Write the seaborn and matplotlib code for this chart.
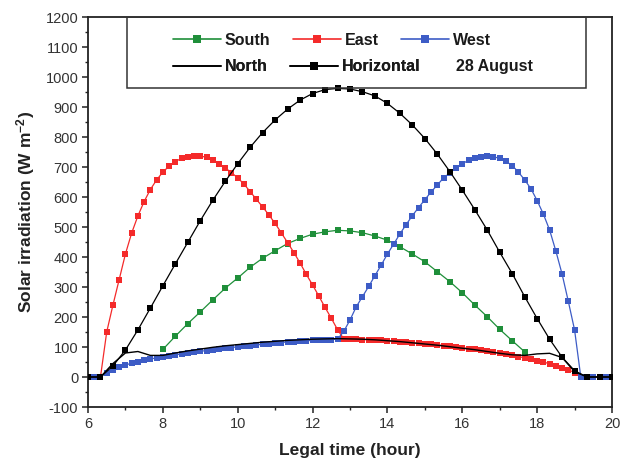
import numpy as np
import pandas as pd
import matplotlib
matplotlib.use("Agg")
import matplotlib.pyplot as plt
import seaborn as sns
from matplotlib.lines import Line2D
from matplotlib.patches import Rectangle
from matplotlib.ticker import MultipleLocator

# ---------------- data ----------------
# 10-minute sampling grid for East / West, 20-minute grid for others
hours_10min = 6 + np.arange(85) / 6.0
hours_20min = 6 + np.arange(43) / 3.0
hours_south = hours_20min[6:36]

east = [0, 0, 0, 150, 240, 325, 410, 480, 537, 585,
        625, 657, 683, 703, 718, 729, 735, 738, 737, 732,
        723, 711, 697, 681, 664, 643, 618, 592, 567, 540,
        512, 480, 448, 415, 380, 342, 307, 270, 232, 196,
        158, 127, 127, 126, 125, 124, 123, 122, 121, 119,
        118, 116, 114, 112, 111, 109, 107, 105, 103, 101,
        98, 95, 92, 89, 86, 83, 80, 76, 72, 68,
        64, 60, 55, 50, 44, 38, 31, 24, 15, 0,
        0, 0, 0, 0, 0]

west = [0, 0, 0, 14, 25, 33, 40, 46, 51, 56,
        60, 64, 68, 71, 74, 77, 80, 83, 86, 88,
        91, 93, 96, 98, 101, 103, 105, 107, 109, 111,
        113, 115, 117, 118, 120, 121, 122, 123, 124, 125,
        126, 152, 190, 234, 268, 302, 338, 373, 410, 443,
        477, 508, 538, 565, 591, 617, 640, 664, 680, 697,
        711, 722, 730, 735, 737, 734, 729, 719, 705, 683,
        657, 628, 588, 543, 490, 420, 343, 252, 157, 0,
        0, 0, 0, 0, 0]

horizontal = [0, 0, 37, 90, 157, 230, 304, 377, 449, 521,
              589, 652, 711, 766, 815, 857, 893, 923, 945, 958,
              962, 960, 951, 937, 912, 879, 840, 795, 743, 685,
              623, 558, 490, 416, 345, 268, 195, 126, 66, 21,
              0, 0, 0]

north = [0, 0, 45, 80, 85, 72, 72, 80, 87, 93,
         99, 104, 108, 112, 116, 119, 122, 124, 126, 127,
         128, 127, 126, 124, 121, 118, 114, 110, 106, 101,
         96, 91, 85, 79, 74, 72, 77, 79, 65, 18,
         0, 0, 0]

south = [92, 136, 178, 217, 257, 296, 330, 366, 396, 421,
         445, 462, 476, 484, 489, 487, 481, 470, 456, 434,
         410, 384, 351, 318, 281, 240, 201, 159, 121, 84]

x_ticks = [6, 8, 10, 12, 14, 16, 18, 20]
y_ticks = list(range(-100, 1201, 100))

# ---------------- style ----------------
sns.set_theme(style="ticks")
plt.rcParams["font.family"] = ["Liberation Sans", "DejaVu Sans"]
plt.rcParams["mathtext.fontset"] = "custom"
plt.rcParams["mathtext.bf"] = "Liberation Sans:bold"
plt.rcParams["mathtext.rm"] = "Liberation Sans"
plt.rcParams["axes.unicode_minus"] = False

c_south = "#1f8f3a"
c_east = "#f42a2a"
c_west = "#3d5cc6"
c_black = "#000000"

fig = plt.figure(figsize=(6.21, 4.66), dpi=100)
ax = fig.add_axes([0.1417, 0.1266, 0.8438, 0.8369])

common = dict(ax=ax, marker="s", markeredgewidth=0, legend=False)
sns.lineplot(x=hours_south, y=south, color=c_south, linewidth=0.9,
             markersize=4.4, zorder=3, **common)
sns.lineplot(x=hours_10min, y=east, color=c_east, linewidth=0.9,
             markersize=4.9, zorder=4, **common)
sns.lineplot(x=hours_10min, y=west, color=c_west, linewidth=0.9,
             markersize=4.9, zorder=5, **common)
sns.lineplot(x=hours_20min, y=north, color=c_black, linewidth=1.0,
             ax=ax, legend=False, zorder=6)
sns.lineplot(x=hours_20min, y=horizontal, color=c_black, linewidth=0.9,
             markersize=4.5, zorder=7, **common)

ax.set_xlim(6, 20)
ax.set_ylim(-100, 1200)
ax.set_xticks(x_ticks)
ax.set_yticks(y_ticks)
ax.xaxis.set_minor_locator(MultipleLocator(1))
ax.yaxis.set_minor_locator(MultipleLocator(50))
ax.tick_params(axis="both", which="major", direction="out", length=4.5,
               width=1.1, labelsize=10.5, labelcolor="#333333", color="#222222",
               pad=2.5)
ax.tick_params(axis="both", which="minor", direction="out", length=2.5,
               width=1.0, color="#222222")
ax.tick_params(top=False, right=False, which="both")
for s in ax.spines.values():
    s.set_visible(True)
    s.set_linewidth(1.3)
    s.set_color("#222222")

ax.set_xlabel("Legal time (hour)", fontsize=12.5, fontweight="bold",
              color="#222222", labelpad=9)
ax.set_ylabel(r"Solar irradiation (W m$\mathbf{^{-2}}$)", fontsize=12.5,
              fontweight="bold", color="#222222", labelpad=6)

# ---------------- legend ----------------
ax.add_patch(Rectangle((0.074, 0.818), 0.876, 0.182, transform=ax.transAxes,
                       fill=False, lw=1.1, ec="#333333", zorder=8))

lp = dict(size=11.5, weight="bold")
h_south = Line2D([], [], color=c_south, marker="s", markersize=5.5, lw=1.2,
                 markeredgewidth=0)
h_east = Line2D([], [], color=c_east, marker="s", markersize=5.5, lw=1.2,
                markeredgewidth=0)
h_west = Line2D([], [], color=c_west, marker="s", markersize=5.5, lw=1.2,
                markeredgewidth=0)
h_north = Line2D([], [], color=c_black, lw=1.2)
h_hor = Line2D([], [], color=c_black, marker="s", markersize=5.5, lw=1.2,
               markeredgewidth=0)

legkw = dict(loc="center left", frameon=False, borderpad=0, borderaxespad=0,
             handlelength=3.0, handletextpad=0.25, columnspacing=1.4, prop=lp)
leg1 = ax.legend(handles=[h_south, h_east, h_west],
                 labels=["South", "East", "West"], ncol=3,
                 bbox_to_anchor=(0.162, 0.941), **legkw)
ax.add_artist(leg1)
leg2 = ax.legend(handles=[h_north, h_hor], labels=["North", "Horizontal"],
                 ncol=2, bbox_to_anchor=(0.162, 0.872), **legkw)
ax.add_artist(leg2)
for lg in (leg1, leg2):
    for t in lg.get_texts():
        t.set_color("#1a1a1a")
ax.text(0.702, 0.872, "28 August", transform=ax.transAxes, va="center",
        ha="left", fontsize=11.5, fontweight="bold", color="#1a1a1a")

fig.savefig("out.png", dpi=100)
